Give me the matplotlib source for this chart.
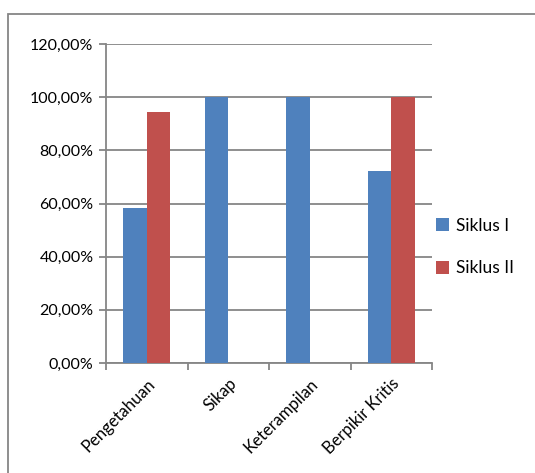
import matplotlib.pyplot as plt
import numpy as np
from matplotlib.patches import Rectangle
from matplotlib.ticker import FuncFormatter

kategori = ["Pengetahuan", "Sikap", "Keterampilan", "Berpikir Kritis"]
siklus_1 = [58.33, 100.0, 100.0, 72.22]
siklus_2 = [94.44, 0.0, 0.0, 100.0]
y_ticks = [0, 20, 40, 60, 80, 100, 120]

plt.rcParams['font.family'] = ['Lato', 'DejaVu Sans']
abu = '#868686'

fig = plt.figure(figsize=(5.35, 4.73), dpi=100)
W, H = 535, 473
ax = fig.add_axes([106 / W, 1 - 363 / H, (432 - 106) / W, (363 - 44) / H])

# ramka wykresu (wychodzi poza obraz z prawej i z dolu)
fig.patches.append(Rectangle((8 / W, -0.1), 1.2, 1 - 14 / H + 0.1, transform=fig.transFigure,
                             fill=False, edgecolor=abu, linewidth=1.3))

x = np.arange(len(kategori))
szer = 0.286
ax.bar(x - szer / 2, siklus_1, szer, color='#4F81BD', label='Siklus I', zorder=3)
ax.bar(x + szer / 2, siklus_2, szer, color='#C0504D', label='Siklus II', zorder=3)

ax.set_xlim(-0.5, len(kategori) - 0.5)
ax.set_ylim(0, 120)
ax.set_yticks(y_ticks)
ax.yaxis.set_major_formatter(FuncFormatter(lambda v, p: f"{v:.2f}%".replace('.', ',')))
ax.grid(axis='y', color=abu, linewidth=1.3, zorder=0)

ax.set_xticks(np.arange(-0.5, len(kategori), 1.0))
ax.set_xticklabels([])
ax.set_xticks(x, minor=True)
ax.set_xticklabels(kategori, minor=True, rotation=45, ha='right', va='top',
                   rotation_mode='anchor', fontsize=12)
ax.tick_params(axis='x', which='minor', length=0, pad=9)
ax.tick_params(axis='x', which='major', length=5, color=abu, width=1.3)
ax.tick_params(axis='y', length=5, color=abu, width=1.3, labelsize=11.5, pad=4)

for s in ['top', 'right']:
    ax.spines[s].set_visible(False)
for s in ['left', 'bottom']:
    ax.spines[s].set_color(abu)
    ax.spines[s].set_linewidth(1.3)

fig.legend(loc='center left', bbox_to_anchor=(436 / W, 1 - 247 / H), frameon=False,
           fontsize=12.5, handlelength=0.75, handleheight=0.75, handletextpad=0.4,
           labelspacing=1.55, borderpad=0, borderaxespad=0)

fig.savefig('out.png', dpi=100)
